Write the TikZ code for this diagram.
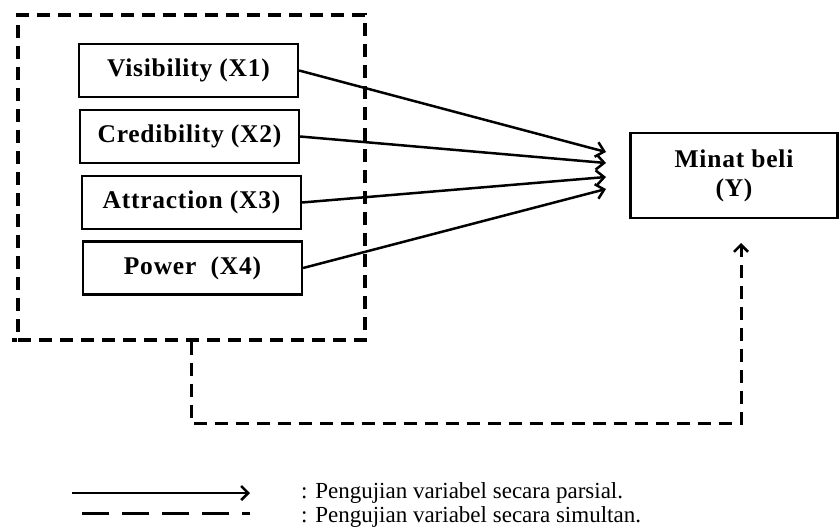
\documentclass[tikz,border=0pt]{standalone}
\usepackage{fontspec}
\setmainfont{Liberation Serif}
\newfontfamily\boxfont[LetterSpace=3,BoldFont={Liberation Serif Bold}]{Liberation Serif}
\usetikzlibrary{arrows.meta}

\begin{document}
\begin{tikzpicture}[x=1pt,y=-1pt,
  varbox/.style={draw, line width=2.2pt, minimum width=219pt, minimum height=53pt,
    inner sep=0pt, font=\boxfont\fontsize{25.5}{29}\selectfont\bfseries},
  groupbox/.style={draw, line width=3.2pt, dash pattern=on 13pt off 8pt,
    minimum width=347pt, minimum height=325pt, inner sep=0pt},
  partial/.style={line width=2.5pt, -{Straight Barb[length=8pt,width=15pt,line width=2.5pt]}},
  simultan/.style={line width=3pt, dash pattern=on 13pt off 8pt,
    -{Straight Barb[length=7pt,width=14pt,line width=2.6pt]}},
  legendtext/.style={anchor=west, inner sep=0pt, font=\fontsize{23}{26}\selectfont}
]
\useasboundingbox (0,0) rectangle (840,532);

% independent variables grouped in a dashed frame
\node[groupbox] (grp) at (191.5,177.5) {};
\draw[line width=3.2pt] (12,340) -- (17,340);

\node[varbox] (x1) at (188.5,70.5) {Visibility (X1)};
\node[varbox] (x2) at (189.5,136.5) {Credibility (X2)};
\node[varbox] (x3) at (191.5,202.5) {Attraction (X3)};
\node[varbox] (x4) at (192.5,268) {Power\ \ (X4)};

% dependent variable
\node[draw, line width=2.2pt, minimum width=207pt, minimum height=85pt, inner sep=0pt,
  align=center, font=\boxfont\fontsize{25.5}{29}\selectfont\bfseries] (y) at (734,175.5)
  {Minat beli\\(Y)};

% partial tests
\coordinate (e1) at (606,152);
\coordinate (e2) at (606,163);
\coordinate (e3) at (606,177);
\coordinate (e4) at (606,189);
\draw[partial] (x1.east) -- (e1);
\draw[partial] (x2.east) -- (e2);
\draw[partial] (x3.east) -- (e3);
\draw[partial] (x4.east) -- (e4);

% simultaneous test
\coordinate (tip) at (741,243);
\draw[simultan] (grp.south) -- ++(0,82) -| (tip);

% legend
\coordinate (la) at (72,493);
\coordinate (lb) at (250,493);
\coordinate (lc) at (82,513);
\coordinate (ld) at (250,513);
\draw[line width=2.8pt, -{Straight Barb[length=7pt,width=14pt,line width=2.6pt]}] (la) -- (lb);
\draw[line width=3pt, dash pattern=on 27pt off 13pt] (lc) -- (ld);
\node[legendtext] (t1) at (301,493) {: Pengujian variabel secara parsial.};
\node[legendtext] (t2) at (301,517) {: Pengujian variabel secara simultan.};
\end{tikzpicture}
\end{document}
